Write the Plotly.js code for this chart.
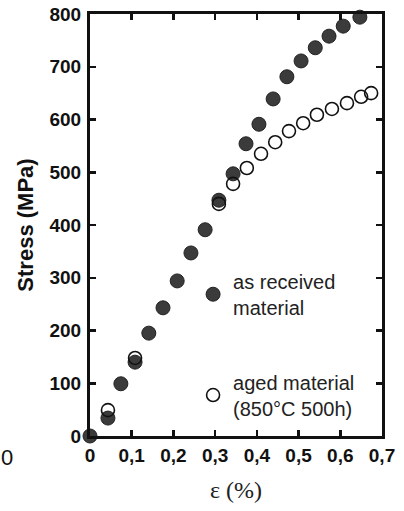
<!DOCTYPE html>
<html><head><meta charset="utf-8">
<script src="https://cdn.plot.ly/plotly-3.0.1.min.js"></script>
<style>html,body{margin:0;padding:0;background:#fff}#c{width:404px;height:511px}</style>
</head><body><div id="c"></div>
<script>
// as received material
const recvStrain = [0, 0.043, 0.074, 0.108, 0.141, 0.175, 0.209, 0.242, 0.276, 0.309, 0.343, 0.374, 0.405, 0.439, 0.472, 0.506, 0.540, 0.573, 0.607, 0.647];
const recvStress = [0, 34, 99, 140, 195, 243, 294, 347, 391, 447, 497, 554, 591, 639, 681, 711, 736, 758, 777, 794];
// aged material (850°C 500h)
const agedStrain = [0.043, 0.108, 0.309, 0.343, 0.376, 0.41, 0.444, 0.477, 0.511, 0.544, 0.580, 0.616, 0.65, 0.674];
const agedStress = [49, 148, 440, 478, 508, 535, 557, 578, 593, 609, 620, 631, 643, 650];
const xTickVals = [0, 0.1, 0.2, 0.3, 0.4, 0.5, 0.6, 0.7];
const xTickText = ["0", "0,1", "0,2", "0,3", "0,4", "0,5", "0,6", "0,7"];
const yTickVals = [0, 100, 200, 300, 400, 500, 600, 700, 800];
const yTickText = ["0", "100", "200", "300", "400", "500", "600", "700", "800"];

const traces = [
  {x: recvStrain, y: recvStress, mode: 'markers', type: 'scatter', name: 'as received<br>material',
   marker: {size: 14, color: '#3b3b3b', line: {width: 1, color: '#222'}}, cliponaxis: false, legend: 'legend'},
  {x: agedStrain, y: agedStress, mode: 'markers', type: 'scatter', name: 'aged material<br>(850°C 500h)',
   marker: {size: 13, color: 'rgba(255,255,255,0)', line: {width: 1.6, color: '#111'}}, cliponaxis: false, legend: 'legend2'}
];
const axisCommon = {showline: true, linewidth: 3, linecolor: '#111', mirror: 'allticks', ticks: 'inside',
  ticklen: 6, tickwidth: 2.5, tickcolor: '#111', showgrid: false, zeroline: false,
  tickfont: {family: 'Liberation Sans, Arial, sans-serif', size: 19, color: '#111', weight: 'bold'}};
const legendFont = {family: 'Liberation Sans, Arial, sans-serif', size: 20, color: '#222'};
const layout = {
  width: 404, height: 511,
  margin: {l: 90, r: 22, t: 14, b: 75},
  paper_bgcolor: '#fff', plot_bgcolor: '#fff',
  showlegend: true,
  xaxis: Object.assign({}, axisCommon, {range: [0, 0.7], tickvals: xTickVals, ticktext: xTickText,
    title: {text: 'ε (%)', font: {family: 'Liberation Serif, Times New Roman, serif', size: 24, color: '#222'}, standoff: 17}}),
  yaxis: Object.assign({}, axisCommon, {range: [0, 800], tickvals: yTickVals, ticktext: yTickText, ticklabelstandoff: 2,
    title: {text: 'Stress (MPa)', font: {family: 'Liberation Sans, Arial, sans-serif', size: 22, color: '#111', weight: 'bold'}, standoff: 10}}),
  legend: {x: 0.353, y: 0.336, xanchor: 'left', yanchor: 'middle', bgcolor: 'rgba(0,0,0,0)', itemwidth: 30, font: legendFont},
  legend2: {x: 0.353, y: 0.097, xanchor: 'left', yanchor: 'middle', bgcolor: 'rgba(0,0,0,0)', itemwidth: 30, font: legendFont},
  annotations: [
    {text: '0', xref: 'paper', yref: 'paper', x: -0.284, y: -0.05, showarrow: false, xanchor: 'center', yanchor: 'middle',
     font: {family: 'Liberation Sans, Arial, sans-serif', size: 22, color: '#111'}}
  ]
};
Plotly.newPlot('c', traces, layout, {displayModeBar: false, staticPlot: true});
</script></body></html>
